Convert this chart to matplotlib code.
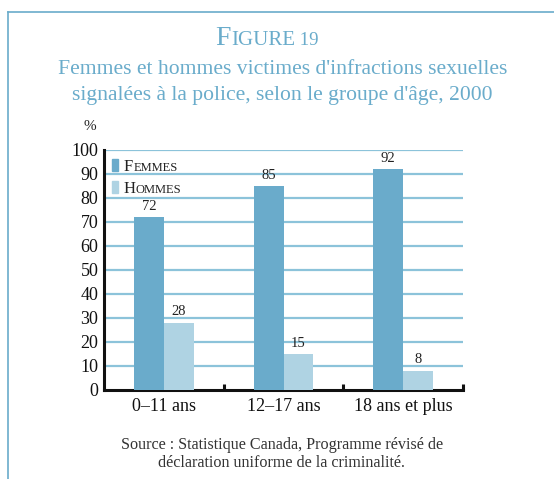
import matplotlib
matplotlib.use("Agg")
import matplotlib.pyplot as plt
from matplotlib.patches import Rectangle
from matplotlib.lines import Line2D
import numpy as np

categories = ["0\u201311 ans", "12\u201317 ans", "18 ans et plus"]
femmes = [72, 85, 92]
hommes = [28, 15, 8]
yticks = [0, 10, 20, 30, 40, 50, 60, 70, 80, 90, 100]

C_F = "#6aabcb"
C_H = "#afd3e3"
C_GRID = "#8cc3da"
C_TITLE = "#6aaccb"
SERIF = "Liberation Serif"

W, H = 554, 479
fig = plt.figure(figsize=(W / 100, H / 100), dpi=100)
fig.patch.set_facecolor("white")

# frame (left + top)
fig.add_artist(Line2D([8 / W, 8 / W], [0, 1 - 12 / H], transform=fig.transFigure, color=C_TITLE, lw=1.2))
fig.add_artist(Line2D([8 / W, 1], [1 - 12 / H, 1 - 12 / H], transform=fig.transFigure, color=C_TITLE, lw=1.2))

ax = fig.add_axes([104 / W, 1 - 390 / H, (463 - 104) / W, (390 - 150) / H])
x = np.arange(len(categories)) + 0.5
bw = 0.25
ax.bar(x - bw / 2, femmes, bw, color=C_F, zorder=3)
ax.bar(x + bw / 2, hommes, bw, color=C_H, zorder=3)
for xi, v in zip(x - bw / 2, femmes):
    ax.text(xi, v + 1.8, str(v), ha="center", va="bottom", fontsize=10.5, family=SERIF, color="#222222")
for xi, v in zip(x + bw / 2, hommes):
    ax.text(xi, v + 1.8, str(v), ha="center", va="bottom", fontsize=10.5, family=SERIF, color="#222222")

ax.set_xlim(0, 3)
ax.set_ylim(0, 100)
for yv in yticks[1:]:
    ax.axhline(yv, color=C_GRID, lw=1.6, zorder=1)
ax.set_yticks(yticks)
ax.set_yticklabels([str(t) for t in yticks], family=SERIF, fontsize=13, color="#111111")
ax.set_xticks(x)
ax.set_xticklabels(categories, family=SERIF, fontsize=13, color="#111111")
ax.tick_params(axis="x", length=0, pad=6)
ax.tick_params(axis="y", length=0, pad=4)
for s in ["top", "right"]:
    ax.spines[s].set_visible(False)
ax.spines["left"].set_linewidth(2.2)
ax.spines["bottom"].set_linewidth(2.2)
ax.spines["left"].set_color("#111111")
ax.spines["bottom"].set_color("#111111")
# group separator ticks upward
for b in [1, 2, 3]:
    ax.plot([b, b], [0, 2.3], color="#111111", lw=2.2, clip_on=False, zorder=4, solid_capstyle="butt")

ax.text(-0.12, 107, "%", transform=ax.transData, family=SERIF, fontsize=11, ha="center", va="bottom", color="#222222")

fig.canvas.draw()
renderer = fig.canvas.get_renderer()


def small_caps(x0, y0, parts, color, ha="left"):
    # parts: list of (text, fontsize)
    widths = []
    arts = []
    for t, fs in parts:
        a = fig.text(0, 0, t, fontsize=fs, family=SERIF, color=color, va="baseline")
        bb = a.get_window_extent(renderer)
        widths.append(bb.width)
        arts.append(a)
    total = sum(widths)
    cur = x0 * W - (total / 2 if ha == "center" else 0)
    for a, w in zip(arts, widths):
        a.set_position((cur / W, y0))
        cur += w


# title
small_caps(267 / W, 1 - 45 / H, [("F", 20), ("IGURE", 15), (" 19", 13.5)], C_TITLE, ha="center")
fig.text(283 / W, 1 - 74 / H, "Femmes et hommes victimes d'infractions sexuelles", ha="center", va="baseline",
         fontsize=15.6, family=SERIF, color=C_TITLE)
fig.text(282 / W, 1 - 100 / H, "signal\u00e9es \u00e0 la police, selon le groupe d'\u00e2ge, 2000", ha="center", va="baseline",
         fontsize=15.6, family=SERIF, color=C_TITLE)

# legend
fig.add_artist(Rectangle((112 / W, 1 - 171 / H), 6 / W, 12 / H, transform=fig.transFigure, color=C_F))
fig.add_artist(Rectangle((112 / W, 1 - 193 / H), 6 / W, 12 / H, transform=fig.transFigure, color=C_H))
small_caps(124 / W, 1 - 171 / H, [("F", 12), ("EMMES", 9)], "#222222")
small_caps(124 / W, 1 - 193 / H, [("H", 12), ("OMMES", 9)], "#222222")

fig.text(282 / W, 1 - 449 / H, "Source : Statistique Canada, Programme r\u00e9vis\u00e9 de", ha="center", va="baseline",
         fontsize=11.6, family=SERIF, color="#333333")
fig.text(282 / W, 1 - 467 / H, "d\u00e9claration uniforme de la criminalit\u00e9.", ha="center", va="baseline",
         fontsize=11.6, family=SERIF, color="#333333")

fig.savefig("out.png", dpi=100, facecolor="white")
